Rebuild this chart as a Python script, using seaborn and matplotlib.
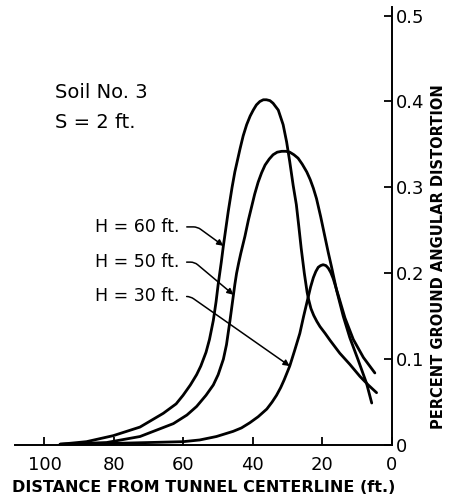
import matplotlib
matplotlib.use("Agg")
import matplotlib.pyplot as plt
import seaborn as sns
import pandas as pd

# distance from tunnel centerline (ft) and percent angular distortion
dist_h60 = [95.5, 87.9, 80.2, 72.5, 65.8, 62.1, 60.1, 58.0, 56.2, 55.0, 53.5, 52.5, 51.4, 50.6, 50.0,
            49.1, 48.5, 47.1, 46.0, 45.2, 43.7, 42.8, 41.8, 40.8, 39.9, 39.0, 38.0, 37.0, 36.1, 35.1,
            34.2, 32.7, 31.3, 30.3, 29.4, 28.4, 27.5, 26.8, 26.1, 25.2, 24.4, 24.0, 23.3, 22.5, 21.6,
            20.7, 19.2, 17.8, 15.0, 12.1, 9.2, 6.8, 4.4]
val_h60 = [0.001, 0.004, 0.011, 0.021, 0.037, 0.048, 0.058, 0.070, 0.082, 0.092, 0.108, 0.123, 0.145, 0.167, 0.187,
           0.213, 0.232, 0.272, 0.300, 0.318, 0.345, 0.360, 0.373, 0.383, 0.390, 0.396, 0.400, 0.402, 0.402, 0.401,
           0.398, 0.390, 0.373, 0.353, 0.330, 0.302, 0.280, 0.255, 0.229, 0.200, 0.178, 0.170, 0.159, 0.151, 0.144,
           0.138, 0.130, 0.122, 0.107, 0.094, 0.080, 0.070, 0.061]

dist_h50 = [95.5, 82.1, 72.5, 62.9, 59.0, 56.2, 53.5, 51.4, 50.0, 48.5, 47.6, 46.6, 46.1, 45.6, 45.2,
            44.7, 44.1, 43.5, 42.3, 41.3, 40.4, 39.5, 38.5, 37.5, 36.5, 35.3, 34.2, 33.0, 31.7, 30.5,
            29.4, 28.2, 27.0, 25.8, 24.5, 23.5, 22.6, 21.7, 20.5, 19.3, 18.3, 17.4, 15.9, 14.0, 12.1,
            9.7, 7.3, 5.8]
val_h50 = [0.001, 0.003, 0.010, 0.025, 0.035, 0.045, 0.058, 0.070, 0.082, 0.100, 0.117, 0.145, 0.160, 0.175, 0.187,
           0.200, 0.212, 0.223, 0.243, 0.262, 0.277, 0.292, 0.306, 0.317, 0.326, 0.333, 0.338, 0.341, 0.342, 0.342,
           0.341, 0.338, 0.334, 0.327, 0.318, 0.309, 0.299, 0.287, 0.266, 0.243, 0.224, 0.208, 0.180, 0.150, 0.125,
           0.099, 0.072, 0.049]

dist_h30 = [95.5, 80.0, 70.0, 60.1, 55.3, 50.5, 45.7, 43.3, 40.9, 38.5, 36.0, 34.5, 33.2, 32.0, 31.0,
            30.2, 29.4, 28.0, 26.5, 25.4, 24.4, 23.4, 22.6, 21.9, 21.2, 20.5, 19.8, 19.0, 18.3, 17.6,
            16.9, 15.4, 13.5, 11.1, 8.2, 4.9]
val_h30 = [0.001, 0.002, 0.003, 0.004, 0.006, 0.010, 0.016, 0.020, 0.026, 0.033, 0.042, 0.050, 0.058, 0.067, 0.076,
           0.084, 0.092, 0.110, 0.130, 0.150, 0.167, 0.184, 0.195, 0.202, 0.207, 0.209, 0.210, 0.209, 0.206, 0.201,
           0.194, 0.174, 0.148, 0.123, 0.102, 0.084]

series_labels = ["H = 60 ft.", "H = 50 ft.", "H = 30 ft."]
x_ticks = [100, 80, 60, 40, 20, 0]
y_ticks = [0, 0.1, 0.2, 0.3, 0.4, 0.5]
y_tick_labels = ["0", "0.1", "0.2", "0.3", "0.4", "0.5"]

df = pd.concat([
    pd.DataFrame({"dist": dist_h60, "val": val_h60, "H": series_labels[0]}),
    pd.DataFrame({"dist": dist_h50, "val": val_h50, "H": series_labels[1]}),
    pd.DataFrame({"dist": dist_h30, "val": val_h30, "H": series_labels[2]}),
])

sns.set_style("ticks")
plt.rcParams["font.family"] = ["DejaVu Sans"]
plt.rcParams["text.color"] = "black"
plt.rcParams["axes.labelcolor"] = "black"

fig = plt.figure(figsize=(4.52, 4.99), dpi=100)
ax = fig.add_axes([0.033, 0.108, 0.834, 0.878])

sns.lineplot(data=df, x="dist", y="val", hue="H", units="H", estimator=None, sort=False,
             palette=["black"] * 3, linewidth=2.0, legend=False, ax=ax)

ax.set_xlim(108.5, 0)
ax.set_ylim(0, 0.51)

ax.spines["left"].set_visible(False)
ax.spines["top"].set_visible(False)
ax.spines["bottom"].set_linewidth(1.4)
ax.spines["right"].set_linewidth(1.4)
ax.spines["bottom"].set_color("black")
ax.spines["right"].set_color("black")

ax.yaxis.tick_right()
ax.yaxis.set_label_position("right")
ax.set_xticks(x_ticks)
ax.set_xticklabels([str(t) for t in x_ticks], fontsize=13)
ax.set_yticks(y_ticks)
ax.set_yticklabels(y_tick_labels, fontsize=13)
ax.tick_params(axis="x", direction="in", length=6, width=1.3, pad=8, colors="black")
ax.tick_params(axis="y", direction="in", length=6, width=1.3, pad=3, colors="black")

ax.set_xlabel("DISTANCE FROM TUNNEL CENTERLINE (ft.)", fontsize=11.5, fontweight="bold", labelpad=4)
ax.set_ylabel("PERCENT GROUND ANGULAR DISTORTION", fontsize=10.5, fontweight="bold")
ax.yaxis.set_label_coords(1.105, 0.43)

ax.text(97, 0.410, "Soil No. 3", fontsize=14, ha="left", va="center")
ax.text(97, 0.376, "S = 2 ft.", fontsize=14, ha="left", va="center")

# labels with leader arrows to their curves
i60, i50, i30 = dist_h60.index(48.5), dist_h50.index(45.6), dist_h30.index(29.4)
targets = [(dist_h60[i60], val_h60[i60]), (dist_h50[i50], val_h50[i50]), (dist_h30[i30], val_h30[i30])]
label_y = [0.254, 0.213, 0.173]
angles = [-36, -40, -35]
for lab, (tx, ty), ly, ang in zip(series_labels, targets, label_y, angles):
    ax.annotate(lab, xy=(tx, ty), xytext=(85.5, ly), fontsize=12.5, ha="left", va="center",
                arrowprops=dict(arrowstyle="-|>", color="black", lw=1.1, mutation_scale=9,
                                connectionstyle=f"angle,angleA=0,angleB={ang},rad=4",
                                relpos=(1, 0.5), shrinkA=3, shrinkB=0))

fig.savefig("out.png", dpi=100, facecolor="white")
